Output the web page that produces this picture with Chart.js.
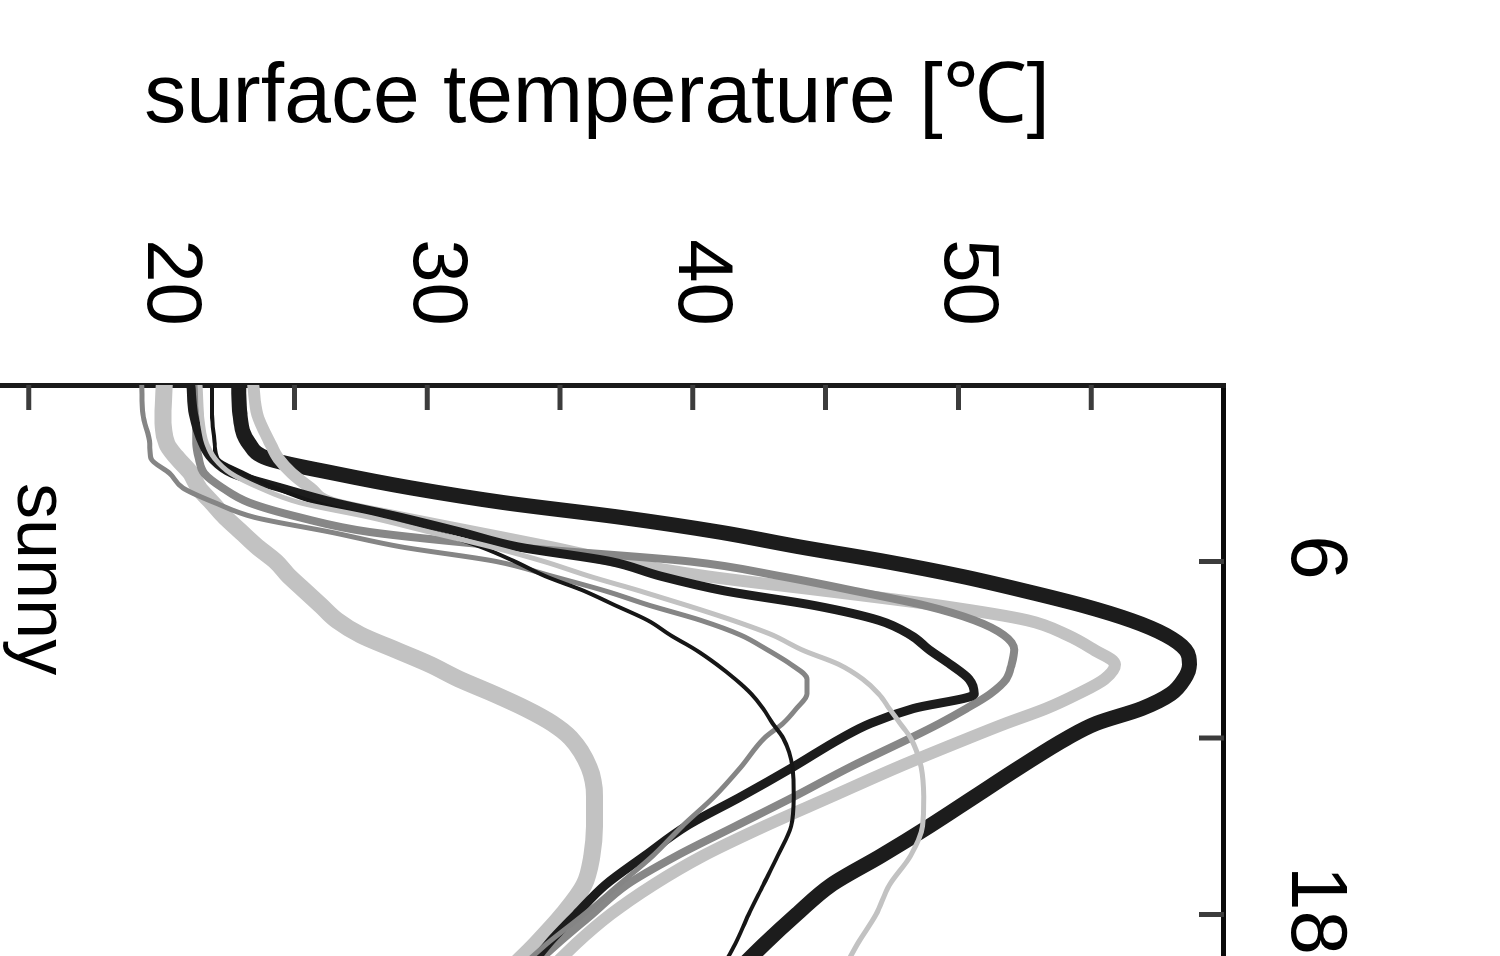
<!DOCTYPE html>
<html>
<head>
<meta charset="utf-8">
<script src="https://cdn.jsdelivr.net/npm/chart.js@4.4.1/dist/chart.umd.min.js"></script>
<style>
  html, body { margin: 0; padding: 0; background: #ffffff; overflow: hidden; }
  #wrap { position: relative; width: 1500px; height: 956px; overflow: hidden; background: #ffffff; }
  #c { position: absolute; left: 0; top: 0; transform-origin: 0 0; transform: translate(1500px, 0) rotate(90deg); }
</style>
</head>
<body>
<div id="wrap"><canvas id="c" width="1091" height="1604" style="width:1091px;height:1604px"></canvas></div>
<script>
// ---- data (hour of day -> surface temperature in degC) ----
const hours = [0,1,2,2.5,3,3.5,4,4.5,5,5.5,6,6.5,7,7.5,8,8.5,9,9.5,10,10.5,11,11.5,12,13,14,15,16,17,18,19,20,21];

const thickBlack     = [22.9,22.95,23.3,24.0,26.5,29.4,32.9,37.3,41.0,44.0,47.25,50.1,52.5,54.7,56.5,57.8,58.55,58.7,58.5,58.0,56.9,55.2,54.1,52.3,50.6,48.9,47.1,45.2,43.9,42.7,41.6,40.7];
const lightGrayMid   = [23.45,23.6,24.1,24.4,24.9,25.6,26.4,29.0,31.8,34.6,37.2,40.5,45.0,49.3,52.6,54.1,55.1,55.9,55.5,54.5,53.3,51.8,50.4,47.7,45.2,42.7,40.4,38.5,36.9,35.6,34.5,33.6];
const midGray        = [21.3,21.3,21.3,21.4,21.6,22.3,23.3,25.2,27.85,33.1,39.9,43.3,46.1,48.75,50.6,51.7,52.1,52.0,51.8,51.2,50.3,49.3,48.2,45.9,43.8,41.6,39.4,37.5,36.2,34.9,33.7,32.7];
const midBlack       = [21.1,21.2,21.55,21.9,22.65,24.5,26.5,29.0,31.25,33.4,36.9,38.8,41.2,44.6,47.0,48.2,48.9,49.7,50.4,50.6,48.3,46.7,45.6,43.75,41.8,39.75,38.2,36.7,35.6,34.55,33.7,33.0];
const thinMidGray    = [19.25,19.3,19.55,19.6,20.3,20.8,22.0,23.5,26.35,29.0,32.6,34.7,36.7,38.4,40.3,41.8,42.8,43.7,44.3,44.3,43.9,43.4,42.7,41.8,40.8,39.6,38.5,37.2,35.9,34.5,33.3,32.3];
const thinBlack      = [21.9,21.9,22.0,22.1,23.1,24.3,25.8,28.0,30.3,32.0,33.3,34.45,35.9,37.1,38.3,39.15,40.1,40.9,41.6,42.2,42.65,43.0,43.4,43.75,43.8,43.7,43.2,42.65,42.1,41.6,41.0,40.5];
const lightGrayThick = [20.1,20.05,20.2,20.6,21.1,21.4,21.9,22.4,23.0,23.6,24.3,24.8,25.4,26.0,26.6,27.5,28.8,30.1,31.2,32.5,33.7,34.7,35.4,36.1,36.3,36.3,36.2,35.9,35.1,34.1,33.0,32.0];
const lightGrayThin  = [21.45,21.5,21.7,22.0,22.6,23.7,25.2,27.85,30.1,32.4,34.4,36.1,38.0,39.8,41.5,43.0,44.1,45.5,46.4,47.0,47.4,47.8,48.2,48.6,48.7,48.65,48.2,47.4,46.9,46.2,45.6,45.0];

const tempLabels = [20, 30, 40, 50];
const hourLabels = [6, 18];
const titleText = 'surface temperature [\u2103]';
const panelLabel = 'sunny';

// ---- styles (kept apart from the data) ----
const FONT = '"Liberation Sans", Arial, Helvetica, sans-serif';
const series = [
  { data: lightGrayThin,  color: '#c2c2c2', width: 5,  order: 0 },
  { data: thinBlack,      color: '#161616', width: 4,  order: 1 },
  { data: thinMidGray,    color: '#858585', width: 5,  order: 2 },
  { data: midBlack,       color: '#1c1c1c', width: 9,  order: 3 },
  { data: midGray,        color: '#878787', width: 8,  order: 4 },
  { data: lightGrayMid,   color: '#c2c2c2', width: 12, order: 5 },
  { data: thickBlack,     color: '#1c1c1c', width: 15, order: 6 },
  { data: lightGrayThick, color: '#c2c2c2', width: 17, order: 7 }
];

const datasets = series.map(s => ({
  data: hours.map((h, i) => ({ x: h, y: s.data[i] })),
  borderColor: s.color,
  borderWidth: s.width,
  order: s.order,
  pointRadius: 0,
  fill: false,
  cubicInterpolationMode: 'monotone',
  borderCapStyle: 'round',
  borderJoinStyle: 'round'
}));

const decor = {
  id: 'decor',
  beforeDatasetsDraw(chart) {
    const { ctx, chartArea, scales } = chart;
    const x = scales.x, y = scales.y;
    ctx.save();
    ctx.strokeStyle = '#3c3c3c';
    ctx.lineWidth = 5;
    ctx.beginPath();
    y.ticks.forEach(t => {
      const p = y.getPixelForValue(t.value);
      if (p <= chartArea.top + 1 || p >= chartArea.bottom - 1) return;
      ctx.moveTo(chartArea.left, p); ctx.lineTo(chartArea.left + 25, p);
    });
    x.ticks.forEach(t => {
      const p = x.getPixelForValue(t.value);
      if (p <= chartArea.left + 1 || p >= chartArea.right - 1) return;
      ctx.moveTo(p, chartArea.top); ctx.lineTo(p, chartArea.top + 25);
    });
    ctx.stroke();
    ctx.restore();
  },
  afterDraw(chart) {
    const ctx = chart.ctx;
    ctx.save();
    ctx.fillStyle = '#000';
    ctx.font = '84px ' + FONT;
    ctx.textAlign = 'center';
    ctx.textBaseline = 'alphabetic';
    ctx.translate(122, 903);
    ctx.rotate(-Math.PI / 2);
    ctx.fillText(titleText, 0, 0);
    ctx.restore();

    ctx.save();
    ctx.fillStyle = '#000';
    ctx.font = '72px ' + FONT;
    ctx.textAlign = 'left';
    ctx.textBaseline = 'alphabetic';
    ctx.fillText(panelLabel, 483, 1482);
    ctx.restore();
  }
};

new Chart(document.getElementById('c'), {
  type: 'line',
  data: { datasets },
  options: {
    responsive: false,
    maintainAspectRatio: false,
    devicePixelRatio: 1,
    animation: false,
    events: [],
    layout: { padding: 0, autoPadding: false },
    plugins: { legend: { display: false }, tooltip: { enabled: false }, title: { display: false } },
    scales: {
      x: {
        type: 'linear',
        position: 'top',
        min: 0, max: 24,
        afterFit(scale) { scale.height = 276; scale.paddingLeft = 0; scale.paddingRight = 0; },
        grid: { display: true, drawOnChartArea: false, drawTicks: false },
        border: { display: true, color: '#0a0a0a', width: 5 },
        ticks: {
          stepSize: 6, autoSkip: false, minRotation: 0, maxRotation: 0,
          padding: 42, labelOffset: -4, color: '#000',
          font: { size: 80, family: FONT },
          callback: v => hourLabels.includes(v) ? String(v) : ''
        }
      },
      y: {
        type: 'linear',
        position: 'left',
        min: 10, max: 60,
        afterFit(scale) { scale.width = 385; scale.paddingTop = 0; scale.paddingBottom = 0; },
        grid: { display: true, drawOnChartArea: false, drawTicks: false },
        border: { display: true, color: '#1a1a1a', width: 5 },
        ticks: {
          stepSize: 5, autoSkip: false,
          padding: 59, labelOffset: -8, color: '#000',
          font: { size: 78, family: FONT },
          callback: v => tempLabels.includes(v) ? String(v) : ''
        }
      }
    }
  },
  plugins: [decor]
});
</script>
</body>
</html>
